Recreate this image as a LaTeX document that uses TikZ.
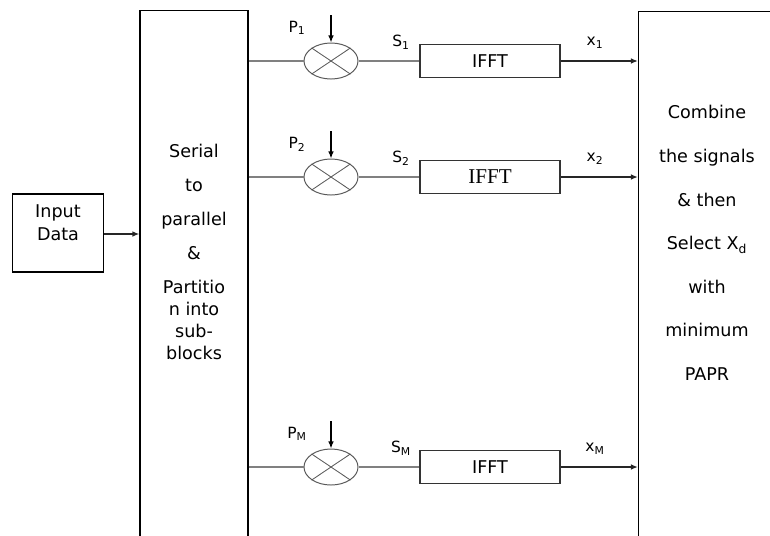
\documentclass[tikz,border=0pt]{standalone}
\usepackage{fontspec}
\setmainfont{DejaVu Sans}
\newfontfamily\serifone{Liberation Serif}
\usetikzlibrary{shapes.geometric,arrows.meta}

\tikzset{
    box/.style={draw, line width=0.8pt, inner sep=0pt},
    mixer/.style={draw=black!65, ellipse, line width=0.7pt, minimum width=1.35cm, minimum height=0.9cm, inner sep=0pt},
    feed/.style={draw=black!50, line width=1.3pt},
    sig/.style={draw=black!85, line width=1pt, -{Latex[length=5pt,width=4pt]}},
    tag/.style={font=\fontsize{11}{13}\selectfont, inner sep=0pt},
}

\begin{document}
\begin{tikzpicture}[x=0.025cm, y=-0.025cm]
    \useasboundingbox (0,0) rectangle (770,535);
    \clip (0,0) rectangle (770,535);

    % Input block
    \node[box, minimum width=2.28cm, minimum height=1.95cm] (input) at (58,233) {};
    \node[align=center, font=\fontsize{12.5}{16.3}\selectfont] (inputtxt) at (58,223) {Input\\Data};

    % Serial to parallel block
    \node[box, minimum width=2.7cm, minimum height=15cm, anchor=north] (sp) at (194,10) {};
    \node[align=center, font=\fontsize{12.5}{15.6}\selectfont] (sptxt) at (194,252)
        {Serial\\[8.5pt]to\\[8.5pt]parallel\\[8.5pt]\&\\[8.5pt]Partitio\\n into\\sub-\\blocks};

    % Combining block
    \node[box, minimum width=5cm, minimum height=15cm, anchor=north west] (comb) at (638,11) {};
    \node[align=center, font=\fontsize{12.5}{31}\selectfont] (combtxt) at (707,243)
        {Combine\\the signals\\\& then\\Select X\textsubscript{d}\\with\\minimum\\PAPR};

    \draw[sig] (input.east |- 0,234) -- (sp.west |- 0,234);

    % Branches
    \foreach \y/\k/\f in {61/1/\fontsize{12.5}{14}, 177/2/\serifone\fontsize{15}{17}, 467/M/\fontsize{12.5}{14}} {
        \node[mixer] (mult\k) at (331,\y) {};
        \draw[black!65, line width=0.6pt] (mult\k.north west) -- (mult\k.south east);
        \draw[black!65, line width=0.6pt] (mult\k.north east) -- (mult\k.south west);
        \coordinate (pin\k) at (331,\y-46);
        \draw[black, line width=0.9pt, -{Latex[length=5pt,width=4pt]}] (pin\k) -- (mult\k.north);
        \node[box, draw=black!80, minimum width=3.5cm, minimum height=0.84cm,
              font=\f\selectfont] (ifft\k) at (490,\y) {IFFT};
        \draw[feed] (sp.east |- mult\k) -- (mult\k.west);
        \draw[feed] (mult\k.east) -- (ifft\k.west);
        \draw[sig] (ifft\k.east) -- (comb.west |- ifft\k.east);
        \node[tag] (p\k) at (297,\y-33) {P\textsubscript{\k}};
        \node[tag] (s\k) at (401,\y-19) {S\textsubscript{\k}};
        \node[tag] (x\k) at (595,\y-18) {x\textsubscript{\k}};
    }
\end{tikzpicture}
\end{document}
